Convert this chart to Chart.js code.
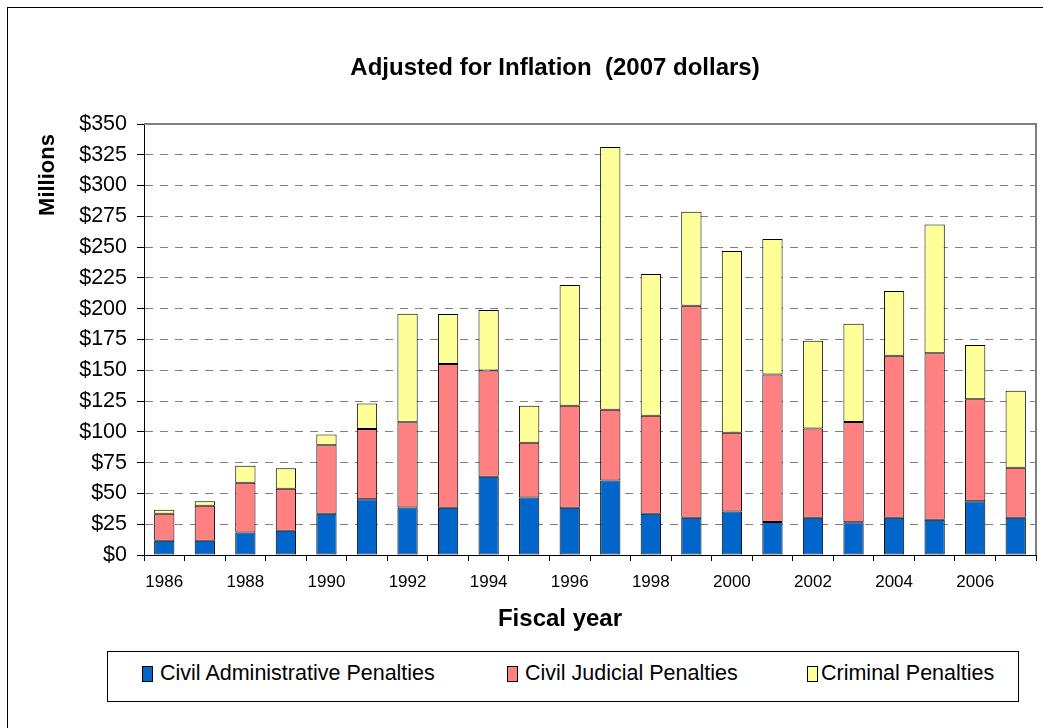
<!DOCTYPE html>
<html>
<head>
<meta charset="utf-8">
<script src="https://cdn.jsdelivr.net/npm/chart.js@4.4.1/dist/chart.umd.min.js"></script>
<style>
  html, body { margin: 0; padding: 0; background: #fff; }
  #wrap { position: relative; width: 1043px; height: 728px; overflow: hidden; font-family: "Liberation Sans", Arial, sans-serif; }
  #frame { position: absolute; left: 7px; top: 7px; width: 1200px; height: 900px; border: 1px solid #000; box-sizing: border-box; }
  canvas { position: absolute; left: 0; top: 0; }
  #legend { position: absolute; left: 107px; top: 651px; width: 912px; height: 51px; border: 1px solid #000; box-sizing: border-box; background: #fff; }
  .item { position: absolute; top: 9px; font-size: 21.5px; line-height: 24px; color: #000; white-space: nowrap; }
  .sw { position: absolute; top: 5px; width: 11px; height: 16px; border: 1px solid #000; box-sizing: border-box; }
</style>
</head>
<body>
<div id="wrap">
  <div id="frame"></div>
  <canvas id="penaltyChart" width="1043" height="728"></canvas>
  <div id="legend"></div>
</div>
<script>
// Fiscal years and penalty amounts (millions, 2007 dollars), stacked
const years = ['1986', '1987', '1988', '1989', '1990', '1991', '1992', '1993', '1994', '1995', '1996',
               '1997', '1998', '1999', '2000', '2001', '2002', '2003', '2004', '2005', '2006', '2007'];
const civilAdmin = [11.5, 11.5, 18.3, 19.6, 33.4, 45.3, 38.6, 38.3, 63.5, 46.7, 38.3,
                    60.5, 33.4, 30.2, 35.3, 26.8, 30.2, 26.6, 30.2, 28.6, 43.7, 30.2];
const civilJudicial = [21.9, 28.4, 40.3, 34.1, 55.7, 57.1, 69.2, 116.9, 86.3, 44.4, 83.0,
                       57.4, 79.6, 172.3, 63.9, 119.7, 72.5, 81.5, 131.7, 135.2, 82.8, 40.6];
const criminal = [3.3, 3.8, 13.8, 16.8, 8.7, 20.6, 88.2, 40.6, 49.2, 30.2, 98.0,
                  213.4, 115.2, 76.3, 147.7, 110.2, 71.2, 79.6, 52.5, 104.5, 44.1, 62.5];
const seriesNames = ['Civil Administrative Penalties', 'Civil Judicial Penalties', 'Criminal Penalties'];
const seriesColors = ['#0066CC', '#FF8080', '#FFFF99'];
const yTicks = [0, 25, 50, 75, 100, 125, 150, 175, 200, 225, 250, 275, 300, 325, 350];

const fontFamily = '"Liberation Sans", Arial, sans-serif';
Chart.defaults.font.family = fontFamily;
Chart.defaults.color = '#000';

// Texts placed where Excel put them (title, axis titles), plus the plot frame
const excelText = {
    id: 'excelText',
    afterDraw(chart) {
        const c = chart.ctx;
        const a = chart.chartArea;
        c.save();
        c.strokeStyle = '#808080';
        c.lineWidth = 2;
        c.beginPath();
        c.moveTo(a.left, a.top);
        c.lineTo(a.right, a.top);
        c.lineTo(a.right, a.bottom);
        c.stroke();

        c.fillStyle = '#000';
        c.textAlign = 'center';
        c.textBaseline = 'middle';
        c.font = 'bold 24px ' + fontFamily;
        c.fillText('Adjusted for Inflation  (2007 dollars)', 555, 68);
        c.font = 'bold 24px ' + fontFamily;
        c.fillText('Fiscal year', 560, 619);
        c.translate(48, 175);
        c.rotate(-Math.PI / 2);
        c.font = 'bold 22px ' + fontFamily;
        c.fillText('Millions', 0, 0);
        c.restore();
    }
};

const chart = new Chart(document.getElementById('penaltyChart'), {
    type: 'bar',
    data: {
        labels: years,
        datasets: [civilAdmin, civilJudicial, criminal].map((vals, i) => ({
            label: seriesNames[i],
            data: vals,
            backgroundColor: seriesColors[i],
            borderColor: '#000',
            borderWidth: 1,
            borderSkipped: false,
            categoryPercentage: 1,
            barPercentage: 0.5
        }))
    },
    options: {
        responsive: false,
        animation: false,
        devicePixelRatio: 1,
        layout: { padding: { left: 0, top: 124, right: 7, bottom: 93 } },
        plugins: {
            legend: { display: false },
            title: { display: false },
            tooltip: { enabled: false }
        },
        scales: {
            x: {
                stacked: true,
                offset: true,
                grid: { offset: true, drawOnChartArea: false, tickLength: 6, tickColor: '#000' },
                border: { color: '#000', width: 1 },
                ticks: {
                    autoSkip: false,
                    maxRotation: 0,
                    padding: 11,
                    font: { size: 17 },
                    callback: function(value, index) {
                        return index % 2 === 0 ? years[index] : '';
                    }
                },
                afterFit: function(scale) { scale.height = 80; }
            },
            y: {
                stacked: true,
                min: 0,
                max: 350,
                afterBuildTicks: function(scale) {
                    scale.ticks = yTicks.map(v => ({ value: v }));
                },
                grid: { color: '#808080', lineWidth: 1, tickLength: 7, tickColor: '#000' },
                border: { color: '#000', width: 1, dash: [8, 7] },
                ticks: {
                    padding: 10,
                    font: { size: 21.5 },
                    callback: function(value) { return '$' + value; }
                },
                afterFit: function(scale) { scale.width = 144; }
            }
        }
    },
    plugins: [excelText]
});

// Legend box in HTML, laid out like the original
const legendPos = [{ sw: 34, tx: 52 }, { sw: 399, tx: 417 }, { sw: 699, tx: 713 }];
const legend = document.getElementById('legend');
seriesNames.forEach((name, i) => {
    const item = document.createElement('div');
    item.className = 'item';
    item.style.left = legendPos[i].tx + 'px';
    item.textContent = name;
    const sw = document.createElement('div');
    sw.className = 'sw';
    sw.style.left = (legendPos[i].sw - legendPos[i].tx) + 'px';
    sw.style.background = seriesColors[i];
    item.appendChild(sw);
    legend.appendChild(item);
});
</script>
</body>
</html>
